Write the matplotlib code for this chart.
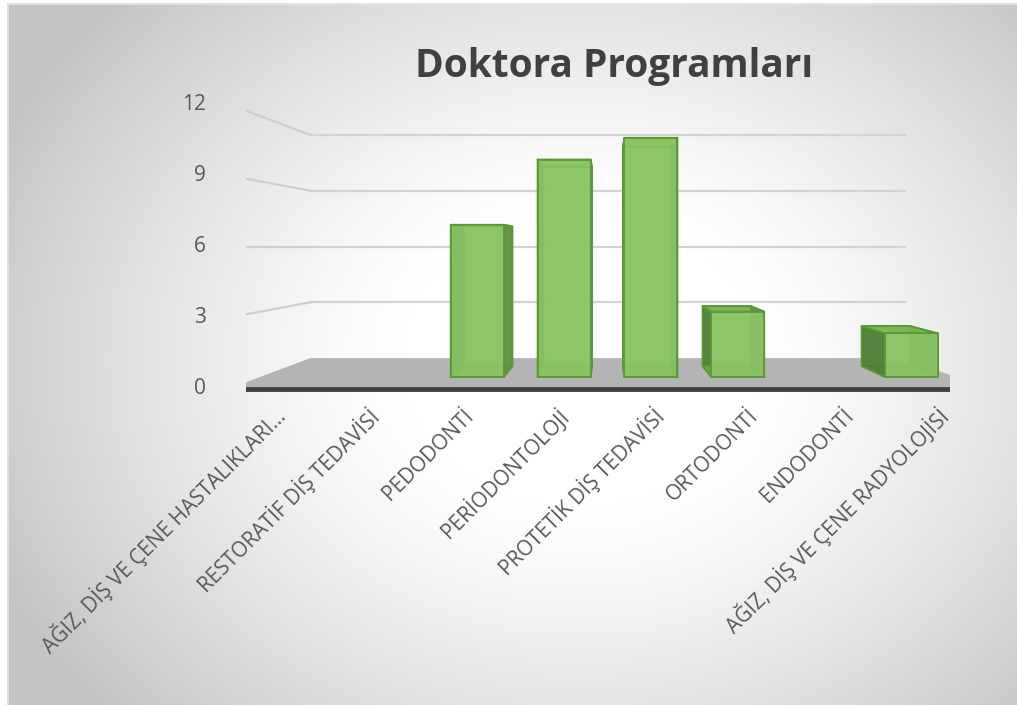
import numpy as np
import matplotlib
matplotlib.use('Agg')
import matplotlib.pyplot as plt
from mpl_toolkits.mplot3d import proj3d
from mpl_toolkits.mplot3d.art3d import Poly3DCollection

# ---- chart data ----
categories = ['AĞIZ, DİŞ VE ÇENE HASTALIKLARI...', 'RESTORATİF DİŞ TEDAVİSİ', 'PEDODONTİ',
              'PERİODONTOLOJİ', 'PROTETİK DİŞ TEDAVİSİ', 'ORTODONTİ', 'ENDODONTİ',
              'AĞIZ, DİŞ VE ÇENE RADYOLOJİSİ']
values = [0, 0, 7, 10, 11, 3, 0, 2]
y_ticks = [0, 3, 6, 9, 12]
chart_title = 'Doktora Programları'

W_PX, H_PX = 1017, 705
n = len(categories)
zmax = y_ticks[-1]
depth = 1.65          # floor depth (category units)
bar_w, bar_y0, bar_d = 0.61, 0.55, 0.6
font = 'Open Sans'
txt_col = '#595959'

fig = plt.figure(figsize=(W_PX / 100, H_PX / 100), dpi=100)
fig.patch.set_facecolor('white')

# radial gradient background of the chart area
bg = fig.add_axes([0, 0, 1, 1], zorder=0)
bg.set_axis_off()
yy, xx = np.mgrid[0:H_PX, 0:W_PX]
rr = np.hypot((xx - 580) / 640.0, (yy - 360) / 520.0)
g = 1.0 - 0.23 * np.clip((rr - 0.28) / 0.72, 0, 1) ** 1.25
g[:3, :] = 1.0
g[:, :7] = 1.0
bg.imshow(np.dstack([g, g, g]), extent=(0, W_PX, H_PX, 0), aspect='auto',
          interpolation='bilinear')
bg.set_xlim(0, W_PX)
bg.set_ylim(H_PX, 0)
bg.plot([7.5, 7.5, W_PX], [H_PX, 3.5, 3.5], color='#e6e6e6', lw=1.2)

# 3d axes, looking straight at the front with perspective
ax = fig.add_axes([0, 0, 1, 1], projection='3d', zorder=1)
ax.set_axis_off()
ax.patch.set_alpha(0)
ax.computed_zorder = False
for a in (ax.xaxis, ax.yaxis, ax.zaxis):
    a.label.set_visible(False)
    a.offsetText.set_visible(False)
for t_ in (ax.title, ax._left_title, ax._right_title,
           bg.title, bg._left_title, bg._right_title):
    t_.set_visible(False)
ax.set_xlim(0, n)
ax.set_ylim(0, depth)
ax.set_zlim(0, zmax)
ax.set_box_aspect((n, depth, n * 285 / 759))
ax.view_init(elev=0, azim=-90, roll=0)
d_box = ax._box_aspect[1]
dist = getattr(ax, '_dist', 10)
ax.set_proj_type('persp', focal_length=4.11 * d_box / dist)

# floor
floor = Poly3DCollection([[(0, 0, 0), (n, 0, 0), (n, depth, 0), (0, depth, 0)]],
                         facecolor='#b4b4b4', edgecolor='none', zorder=1)
ax.add_collection3d(floor)

# gridlines on back and left walls
for t in y_ticks[1:]:
    ax.plot([0, n], [depth, depth], [t, t], color='#d3d3d3', lw=1.6, zorder=1)
    ax.plot([0, 0], [0, depth], [t, t], color='#cfcfcf', lw=1.6, zorder=1)
ax.plot([0, n], [0, 0], [0, 0], color='#404040', lw=3.5, zorder=2,
        solid_capstyle='butt')

# bars
vals = np.array(values, dtype=float)
idx = np.nonzero(vals)[0]
face_cols = ['#6fa84a', '#7ab454', '#8dc565', '#8dc565', '#4f7a37', '#5f9042']
ax.bar3d(idx + 0.5 - bar_w / 2, np.full(len(idx), bar_y0), np.zeros(len(idx)),
         bar_w, bar_d, vals[idx], color=face_cols * len(idx), shade=False,
         edgecolor='#5a9a34', linewidth=1.3, alpha=0.88, zorder=3)

# value axis labels
for t in y_ticks:
    ax.text(-0.23, 0, t, str(t), ha='right', va='center', fontsize=15,
            color=txt_col, family=font, zorder=4)

# place the 3d axes so the front floor edge sits where it should
fig.canvas.draw()
M = ax.get_proj()
px, py, _ = proj3d.proj_transform(np.array([0.0, n]), np.array([0.0, 0.0]),
                                  np.array([0.0, 0.0]), M)
vx0, vx1 = ax.viewLim.intervalx
vy0, vy1 = ax.viewLim.intervaly
S = (987 - 228) * (vx1 - vx0) / (px[1] - px[0])
left = 228 - (px[0] - vx0) / (vx1 - vx0) * S
bottom = (H_PX - 389) - (py[0] - vy0) / (vy1 - vy0) * S
ax.set_position([left / W_PX, bottom / H_PX, S / W_PX, S / H_PX])

# category labels, rotated 45 deg, hung under the front edge
cx, cy, _ = proj3d.proj_transform(np.arange(n) + 0.56, np.zeros(n),
                                  np.full(n, -1.0), M)
for i, c in enumerate(categories):
    ax.text2D(cx[i], cy[i], c, transform=ax.transData, rotation=45,
              rotation_mode='anchor', ha='right', va='center', fontsize=15,
              color=txt_col, family=font, zorder=4)

fig.text(614 / W_PX, 1 - 77 / H_PX, chart_title, ha='center', va='baseline',
         fontsize=28, fontweight='bold', family=font, color='#404040')

fig.savefig('out.png', dpi=100)
